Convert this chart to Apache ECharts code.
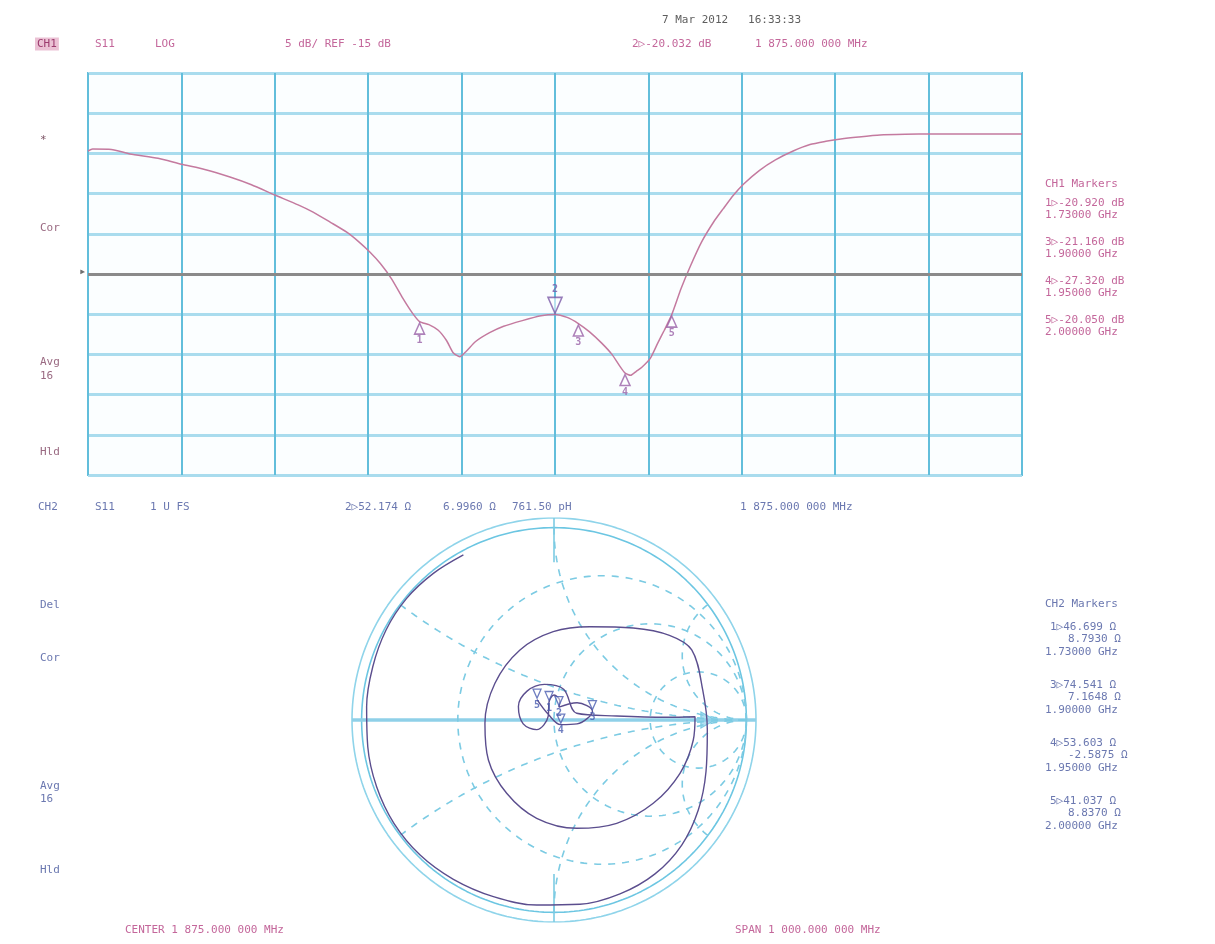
<!DOCTYPE html>
<html>
<head>
<meta charset="utf-8">
<script src="https://cdn.jsdelivr.net/npm/echarts@6/dist/echarts.min.js"></script>
<style>
  html, body { margin: 0; padding: 0; background: #ffffff; }
  #chart { width: 1215px; height: 944px; }
</style>
</head>
<body>
<div id="chart"></div>
<script>
// ---- Channel 1: S11 log magnitude, frequency in GHz ----
const freqGHz = [1.375, 1.380, 1.400, 1.420, 1.450, 1.475, 1.500, 1.527, 1.550, 1.575,
  1.600, 1.616, 1.635, 1.652, 1.665, 1.677, 1.688, 1.700, 1.712, 1.722,
  1.730, 1.740, 1.750, 1.759, 1.766, 1.773, 1.780, 1.790, 1.805, 1.820,
  1.840, 1.860, 1.875, 1.888, 1.900, 1.912, 1.925, 1.936, 1.944, 1.950,
  1.956, 1.962, 1.968, 1.977, 1.985, 1.992, 2.000, 2.010, 2.020, 2.032,
  2.045, 2.055, 2.066, 2.077, 2.094, 2.111, 2.130, 2.148, 2.165, 2.181,
  2.200, 2.223, 2.250, 2.279, 2.320, 2.375];
const s11dB = [0.3, 0.55, 0.5, -0.07, -0.6, -1.35, -2.0, -2.94, -3.9, -5.17,
  -6.4, -7.3, -8.6, -9.8, -11.0, -12.3, -13.7, -15.6, -18.0, -19.8,
  -20.92, -21.3, -22.0, -23.3, -24.8, -25.3, -24.6, -23.4, -22.3, -21.5,
  -20.8, -20.2, -20.032, -20.4, -21.16, -22.2, -23.6, -25.0, -26.4, -27.32,
  -27.6, -27.1, -26.6, -25.5, -23.6, -22.0, -20.05, -16.8, -14.0, -11.0,
  -8.5, -6.9, -5.2, -3.8, -2.1, -0.8, 0.3, 1.1, 1.5, 1.8,
  2.05, 2.3, 2.38, 2.41, 2.41, 2.41];

// ---- Markers (shared by both channels) ----
const markerIds = [1, 2, 3, 4, 5];
const markerFreqGHz = [1.73, 1.875, 1.90, 1.95, 2.00];
const markerDB = [-20.92, -20.032, -21.16, -27.32, -20.05];
const markerR = [46.699, 52.174, 74.541, 53.603, 41.037];
const markerX = [8.793, 6.996, 7.1648, -2.5875, 8.837];
const activeMarker = 2;

// ---- Channel 2: S11 on the Smith chart (reflection coefficient) ----
const gammaRe = [-0.471, -0.627, -0.766, -0.873, -0.942, -0.974, -0.968, -0.922, -0.832, -0.696,
  -0.523, -0.315, -0.090, 0.135, 0.343, 0.525, 0.664, 0.750, 0.790, 0.797,
  0.773, 0.716, 0.600, 0.412, 0.187, -0.004, -0.177, -0.307, -0.359, -0.341,
  -0.246, -0.090, 0.118, 0.326, 0.516, 0.655, 0.724, 0.733, 0.586, 0.326,
  0.118, 0.05, -0.05, -0.14, -0.185, -0.16, -0.09, -0.03, -0.026, 0.0,
  0.03, 0.026, 0.12, 0.200, 0.12, 0.035, -0.03, -0.088];
const gammaIm = [0.858, 0.762, 0.632, 0.468, 0.277, 0.069, -0.139, -0.347, -0.537, -0.702,
  -0.828, -0.918, -0.962, -0.958, -0.904, -0.800, -0.650, -0.468, -0.269, -0.052,
  0.156, 0.364, 0.440, 0.478, 0.485, 0.459, 0.364, 0.191, -0.017, -0.208,
  -0.381, -0.511, -0.563, -0.537, -0.433, -0.277, -0.104, 0.017, 0.014, 0.021,
  0.035, 0.16, 0.185, 0.15, 0.07, -0.02, -0.05, 0.02, 0.093, 0.13,
  0.10, 0.067, 0.09, 0.046, -0.02, -0.024, 0.03, 0.106];

// Smith graticule: constant-resistance circles and reactance arcs
const smithR = [1 / 3, 1, 3];
const smithX = [1 / 3, 1, 3];

// ---- Instrument settings ----
const centerMHz = 1875;
const spanMHz = 1000;
const refDB = -15;
const dbPerDiv = 5;
const z0 = 50;

const PINK = '#c4679b';
const PINK_TRACE = '#c47a9f';
const BLUE_TEXT = '#6b78b0';
const GRID_V = '#62bedb';
const GRID_H = '#a9dcee';
const SMITH_GRID = '#7ccbe3';
const SMITH_TRACE = '#5b4e8e';
const FONT = 'DejaVu Sans Mono';

const chart = echarts.init(document.getElementById('chart'));

// frequency -> offset from center (MHz) for the x axis
const toOffset = f => Math.round((f * 1000 - centerMHz) * 1000) / 1000;

function arc(cx, cy, rad, a0, a1, n) {
  const pts = [];
  for (let i = 0; i <= n; i++) {
    const a = a0 + (a1 - a0) * i / n;
    pts.push([cx + rad * Math.cos(a), cy + rad * Math.sin(a)]);
  }
  return pts;
}

function zToGamma(r, x) {
  const nr = r - z0, ni = x, dr = r + z0, di = x;
  const d = dr * dr + di * di;
  return [(nr * dr + ni * di) / d, (ni * dr - nr * di) / d];
}

const smithSeries = [];
const lineBase = { type: 'line', xAxisIndex: 1, yAxisIndex: 1, showSymbol: false, silent: true, animation: false };

// outer rings
smithSeries.push(Object.assign({}, lineBase, {
  data: arc(0, 0, 1, 0, Math.PI * 2, 240),
  lineStyle: { color: '#6cc6e2', width: 1.6 }
}));
smithSeries.push(Object.assign({}, lineBase, {
  data: arc(0, 0, 1.05, 0, Math.PI * 2, 240),
  lineStyle: { color: '#8fd4ea', width: 1.6 }
}));
// real axis
smithSeries.push(Object.assign({}, lineBase, {
  data: [[-1.05, 0], [1.05, 0]],
  lineStyle: { color: '#8fd0e8', width: 3.5 }
}));
// resistance circles
smithR.forEach(r => {
  smithSeries.push(Object.assign({}, lineBase, {
    data: arc(r / (1 + r), 0, 1 / (1 + r), 0, Math.PI * 2, 200),
    lineStyle: { color: SMITH_GRID, width: 1.6, type: [7, 7] }
  }));
});
// reactance arcs (inside the unit circle)
smithX.forEach(x => {
  const q = x * x + 1;
  const a0 = Math.atan2((x * x - 1) / (x * q), -2 / q);
  const start = a0 < 0 ? a0 + Math.PI * 2 : a0;
  const pts = arc(1, 1 / x, 1 / x, start, Math.PI * 1.5, 120);
  [1, -1].forEach(s => {
    smithSeries.push(Object.assign({}, lineBase, {
      data: pts.map(p => [p[0], s * p[1]]),
      lineStyle: { color: SMITH_GRID, width: 1.6, type: [7, 7] }
    }));
  });
});
// short solid ticks at the top and bottom of the chart
smithSeries.push(Object.assign({}, lineBase, {
  data: [[0, 1.05], [0, 0.82]], lineStyle: { color: '#7ccbe3', width: 1.6 }
}));
smithSeries.push(Object.assign({}, lineBase, {
  data: [[0, -1.05], [0, -0.8]], lineStyle: { color: '#7ccbe3', width: 1.6 }
}));
// measured trace
smithSeries.push(Object.assign({}, lineBase, {
  data: gammaRe.map((g, i) => [g, gammaIm[i]]),
  smooth: 0.35,
  lineStyle: { color: SMITH_TRACE, width: 1.4 },
  z: 5
}));
// reference arrow on the real axis
smithSeries.push({
  type: 'scatter', xAxisIndex: 1, yAxisIndex: 1, silent: true, animation: false,
  data: [[0.8, 0]], symbol: 'triangle', symbolRotate: -90, symbolSize: [16, 14],
  itemStyle: { color: '#9fd8ee', borderColor: '#63c0de', borderWidth: 1.2 }
});
// Smith markers, placed from their impedance readouts
smithSeries.push({
  type: 'scatter', xAxisIndex: 1, yAxisIndex: 1, silent: true, animation: false, z: 6,
  data: markerIds.map((id, i) => {
    const g = zToGamma(markerR[i], markerX[i]);
    return { value: [g[0], g[1]], name: String(id) };
  }),
  symbol: 'triangle', symbolSize: [8, 9], symbolOffset: [0, -6],
  symbolRotate: 180,
  itemStyle: { color: 'rgba(255,255,255,0.6)', borderColor: '#4a5cb0', borderWidth: 1.3 },
  label: { show: true, formatter: p => p.name, position: 'bottom', distance: 2,
    color: '#4a5cb0', fontFamily: FONT, fontSize: 10, fontWeight: 'bold' }
});

// ---- Text annotations ----
const texts = [];
function t(x, y, text, color, extra) {
  texts.push(Object.assign({
    type: 'text', x: x, y: y, silent: true,
    style: Object.assign({ text: text, fill: color, font: '11px "' + FONT + '"',
      textVerticalAlign: 'middle' }, extra || {})
  }));
}
const mhzText = v => {
  const s = v.toFixed(6);
  const [ip, fp] = s.split('.');
  const ipS = ip.length > 3 ? ip.slice(0, ip.length - 3) + ' ' + ip.slice(-3) : ip;
  return ipS + '.' + fp.slice(0, 3) + ' ' + fp.slice(3) + ' MHz';
};
const mi = markerIds.indexOf(activeMarker);

t(662, 20, '7 Mar 2012   16:33:33', '#5e5e5e');
t(35, 44, 'CH1', '#9c3b6e', { backgroundColor: '#ebc1d4', padding: [1, 2] });
t(95, 44, 'S11', PINK);
t(155, 44, 'LOG', PINK);
t(285, 44, dbPerDiv + ' dB/ REF ' + refDB + ' dB', PINK);
t(632, 44, activeMarker + '\u25B7' + markerDB[mi].toFixed(3) + ' dB', PINK);
t(755, 44, mhzText(markerFreqGHz[mi] * 1000), PINK);

t(40, 140, '*', '#7a5062');
t(40, 228, 'Cor', '#9a6a82');
t(40, 362, 'Avg', '#9a6a82');
t(40, 376, '16', '#9a6a82');
t(40, 452, 'Hld', '#9a6a82');
t(79, 272, '\u25B8', '#6f6f6f', { font: '12px "' + FONT + '"' });

t(1045, 184, 'CH1 Markers', PINK);
let yy = 203;
markerIds.forEach((id, i) => {
  if (id === activeMarker) return;
  t(1045, yy, id + '\u25B7' + markerDB[i].toFixed(3) + ' dB', PINK);
  t(1045, yy + 12, markerFreqGHz[i].toFixed(5) + ' GHz', PINK);
  yy += 39;
});

t(38, 507, 'CH2', BLUE_TEXT);
t(95, 507, 'S11', BLUE_TEXT);
t(150, 507, '1 U FS', BLUE_TEXT);
t(345, 507, activeMarker + '\u25B7' + markerR[mi].toFixed(3) + ' \u03A9', BLUE_TEXT);
t(443, 507, markerX[mi].toFixed(4) + ' \u03A9', BLUE_TEXT);
t(512, 507, '761.50 pH', BLUE_TEXT);
t(740, 507, mhzText(markerFreqGHz[mi] * 1000), BLUE_TEXT);

t(40, 605, 'Del', BLUE_TEXT);
t(40, 658, 'Cor', BLUE_TEXT);
t(40, 786, 'Avg', BLUE_TEXT);
t(40, 799, '16', BLUE_TEXT);
t(40, 870, 'Hld', BLUE_TEXT);

t(1045, 604, 'CH2 Markers', BLUE_TEXT);
yy = 627;
markerIds.forEach((id, i) => {
  if (id === activeMarker) return;
  t(1050, yy, id + '\u25B7' + markerR[i].toFixed(3) + ' \u03A9', BLUE_TEXT);
  t(1068, yy + 12, markerX[i].toFixed(4) + ' \u03A9', BLUE_TEXT);
  t(1045, yy + 25, markerFreqGHz[i].toFixed(5) + ' GHz', BLUE_TEXT);
  yy += 58;
});

t(125, 930, 'CENTER ' + mhzText(centerMHz), PINK);
t(735, 930, 'SPAN ' + mhzText(spanMHz), PINK);

const option = {
  backgroundColor: '#ffffff',
  animation: false,
  grid: [
    { left: 88, top: 73, width: 934, height: 402, show: true, borderColor: GRID_V, borderWidth: 2, backgroundColor: '#fbfeff' },
    { left: 352, top: 518, width: 404, height: 404, show: false }
  ],
  xAxis: [
    { type: 'value', gridIndex: 0, min: -spanMHz / 2, max: spanMHz / 2, interval: spanMHz / 10,
      axisLine: { show: false }, axisTick: { show: false }, axisLabel: { show: false },
      splitLine: { show: true, lineStyle: { color: GRID_V, width: 2 } } },
    { type: 'value', gridIndex: 1, min: -1.05, max: 1.05, show: false, splitLine: { show: false } }
  ],
  yAxis: [
    { type: 'value', gridIndex: 0, min: refDB - 5 * dbPerDiv, max: refDB + 5 * dbPerDiv, interval: dbPerDiv,
      axisLine: { show: false }, axisTick: { show: false }, axisLabel: { show: false },
      splitLine: { show: true, lineStyle: { color: GRID_H, width: 3 } } },
    { type: 'value', gridIndex: 1, min: -1.05, max: 1.05, show: false, splitLine: { show: false } }
  ],
  series: [
    {
      type: 'line', xAxisIndex: 0, yAxisIndex: 0, showSymbol: false, silent: true,
      data: freqGHz.map((f, i) => [toOffset(f), s11dB[i]]),
      smooth: 0.2,
      lineStyle: { color: PINK_TRACE, width: 1.5 },
      markLine: {
        silent: true, symbol: 'none', label: { show: false },
        lineStyle: { color: '#8a8a8a', width: 3, type: 'solid' },
        data: [{ yAxis: refDB }]
      },
      z: 3
    },
    {
      type: 'scatter', xAxisIndex: 0, yAxisIndex: 0, silent: true, z: 4,
      data: markerIds.map((id, i) => ({ value: [toOffset(markerFreqGHz[i]), markerDB[i]], name: String(id) }))
        .filter(d => d.name !== String(activeMarker)),
      symbol: 'triangle', symbolSize: [10, 11], symbolOffset: [0, 7],
      itemStyle: { color: 'rgba(255,255,255,0.7)', borderColor: '#9a62a8', borderWidth: 1.5 },
      label: { show: true, formatter: p => p.name, position: 'bottom', distance: 1,
        color: '#9a62a8', fontFamily: FONT, fontSize: 10, fontWeight: 'bold' }
    },
    {
      type: 'scatter', xAxisIndex: 0, yAxisIndex: 0, silent: true, z: 4,
      data: [{ value: [toOffset(markerFreqGHz[mi]), markerDB[mi]], name: String(activeMarker) }],
      symbol: 'triangle', symbolRotate: 180, symbolSize: [14, 16], symbolOffset: [0, -9],
      itemStyle: { color: 'rgba(255,255,255,0.7)', borderColor: '#7a5aa8', borderWidth: 1.6 },
      label: { show: true, formatter: p => p.name, position: 'top', distance: 2,
        color: '#7a5aa8', fontFamily: FONT, fontSize: 10, fontWeight: 'bold' }
    }
  ].concat(smithSeries),
  graphic: texts
};
chart.setOption(option);
</script>
</body>
</html>
